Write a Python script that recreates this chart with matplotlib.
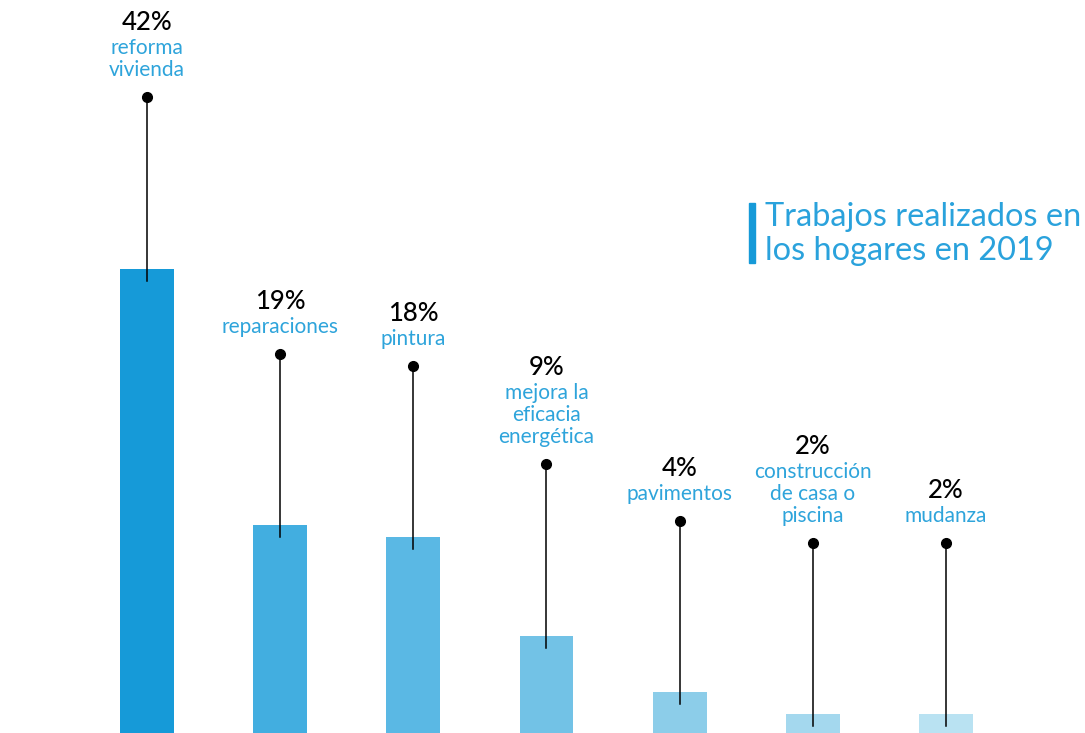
import matplotlib
matplotlib.use("Agg")
import matplotlib.pyplot as plt
from matplotlib.patches import Rectangle

# data
categories = [
    ["reforma", "vivienda"],
    ["reparaciones"],
    ["pintura"],
    ["mejora la", "eficacia", "energética"],
    ["pavimentos"],
    ["construcción", "de casa o", "piscina"],
    ["mudanza"],
]
values = [42, 18.8, 17.7, 8.8, 3.7, 1.7, 1.7]
labels = ["42%", "19%", "18%", "9%", "4%", "2%", "2%"]
title_lines = ["Trabajos realizados en", "los hogares en 2019"]

bar_colors = ["#169ad8", "#42aee0", "#5ab8e4", "#72c2e6", "#8ccde9", "#a4d8ee", "#b9e2f2"]
text_blue = "#2ea4db"
font = ["Lato", "DejaVu Sans"]

W, H = 1085, 733
fig = plt.figure(figsize=(W / 100, H / 100), dpi=100)
ax = fig.add_axes([0, 0, 1, 1])
ax.axis("off")
ax.set_xlim(-1.104, 7.044)
ax.set_ylim(0, 66.3)

x = list(range(len(values)))
ax.bar(x, values, width=0.405, color=bar_colors, zorder=1)

stem_rise = 15.5   # stem top sits this far above the bar top
for i, v in enumerate(values):
    top = v + stem_rise
    ax.plot([i, i], [max(v - 1.1, 0.6), top], color="black", lw=1.1, zorder=2)
    ax.plot(i, top, "o", color="black", ms=7, zorder=3)

    lines = categories[i]
    n = len(lines)
    for k, line in enumerate(lines):
        dy = 21 + (n - 1 - k) * 22
        ax.annotate(line, xy=(i, top), xytext=(0, dy), textcoords="offset pixels",
                    ha="center", va="baseline", fontsize=15, color=text_blue,
                    family=font)
    dy_pct = 21 + (n - 1) * 22 + 24
    ax.annotate(labels[i], xy=(i, top), xytext=(0, dy_pct), textcoords="offset pixels",
                ha="center", va="baseline", fontsize=18.5, color="black",
                family=font, fontweight="medium")

# title with the blue marker bar
fig.patches.append(Rectangle((749 / W, 1 - 263 / H), 6 / W, 60 / H,
                             transform=fig.transFigure, color="#169ad8"))
for j, t in enumerate(title_lines):
    fig.text(765 / W, 1 - (226 + 34.5 * j) / H, t, ha="left", va="baseline",
             fontsize=23.4, color="#2aa2dc", family=font)

fig.savefig("out.png", dpi=100)
